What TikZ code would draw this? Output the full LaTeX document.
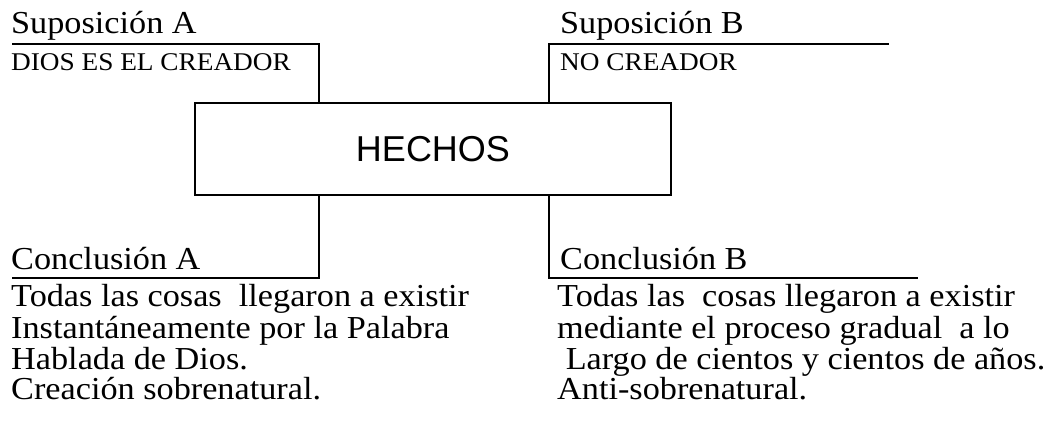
\documentclass[tikz,border=0pt]{standalone}
\usepackage{fontspec}
\setmainfont{Liberation Serif}[FakeStretch=1.07]
\newfontfamily\hechosfont{Liberation Sans}
\begin{document}
\begin{tikzpicture}[x=1pt,y=-1pt,
  lbl/.style={anchor=base west,inner sep=0pt,font=\fontsize{32}{32}\selectfont},
  small/.style={anchor=base west,inner sep=0pt,font=\fontsize{25.5}{25.5}\selectfont},
  conn/.style={line width=1.6pt},
  hbox/.style={draw,line width=1.6pt,minimum width=476pt,minimum height=92pt,inner sep=0pt,font=\hechosfont\fontsize{36}{36}\selectfont}]
\useasboundingbox (0,0) rectangle (1064,442);
% central box
\node[hbox] (hechos) at (433,149) {HECHOS};
% top left
\node[lbl] (supA) at (11,33) {Suposición A};
\node[small] (dios) at (11,70) {DIOS ES EL CREADOR};
\coordinate (a1) at (12,44);
\coordinate (a2) at (319,44);
\draw[conn] (a1) -- (a2) -- (a2 |- hechos.north);
% top right
\node[lbl] (supB) at (560,33) {Suposición B};
\node[small] (nocre) at (560,70) {NO CREADOR};
\coordinate (b1) at (549,44);
\coordinate (b2) at (889,44);
\draw[conn] (b1 |- hechos.north) -- (b1) -- (b2);
% bottom left
\node[lbl] (conA) at (11,269) {Conclusión A};
\coordinate (c1) at (319,278);
\coordinate (c2) at (12,278);
\draw[conn] (c1 |- hechos.south) -- (c1) -- (c2);
% bottom right
\node[lbl] (conB) at (560,269) {Conclusión B};
\coordinate (d1) at (549,278);
\coordinate (d2) at (918,278);
\draw[conn] (d1 |- hechos.south) -- (d1) -- (d2);
% body left
\node[lbl] (la1) at (11,306) {Todas las cosas\ \ llegaron a existir};
\node[lbl] (la2) at (11,338) {Instantáneamente por la Palabra};
\node[lbl] (la3) at (11,369) {Hablada de Dios.};
\node[lbl] (la4) at (11,399) {Creación sobrenatural.};
% body right
\node[lbl] (lb1) at (557,306) {Todas las\ \ cosas llegaron a existir};
\node[lbl] (lb2) at (557,338) {mediante el proceso gradual\ \ a lo};
\node[lbl] (lb3) at (557,369) {\ Largo de cientos y cientos de años.};
\node[lbl] (lb4) at (557,399) {Anti-sobrenatural.};
\end{tikzpicture}
\end{document}
